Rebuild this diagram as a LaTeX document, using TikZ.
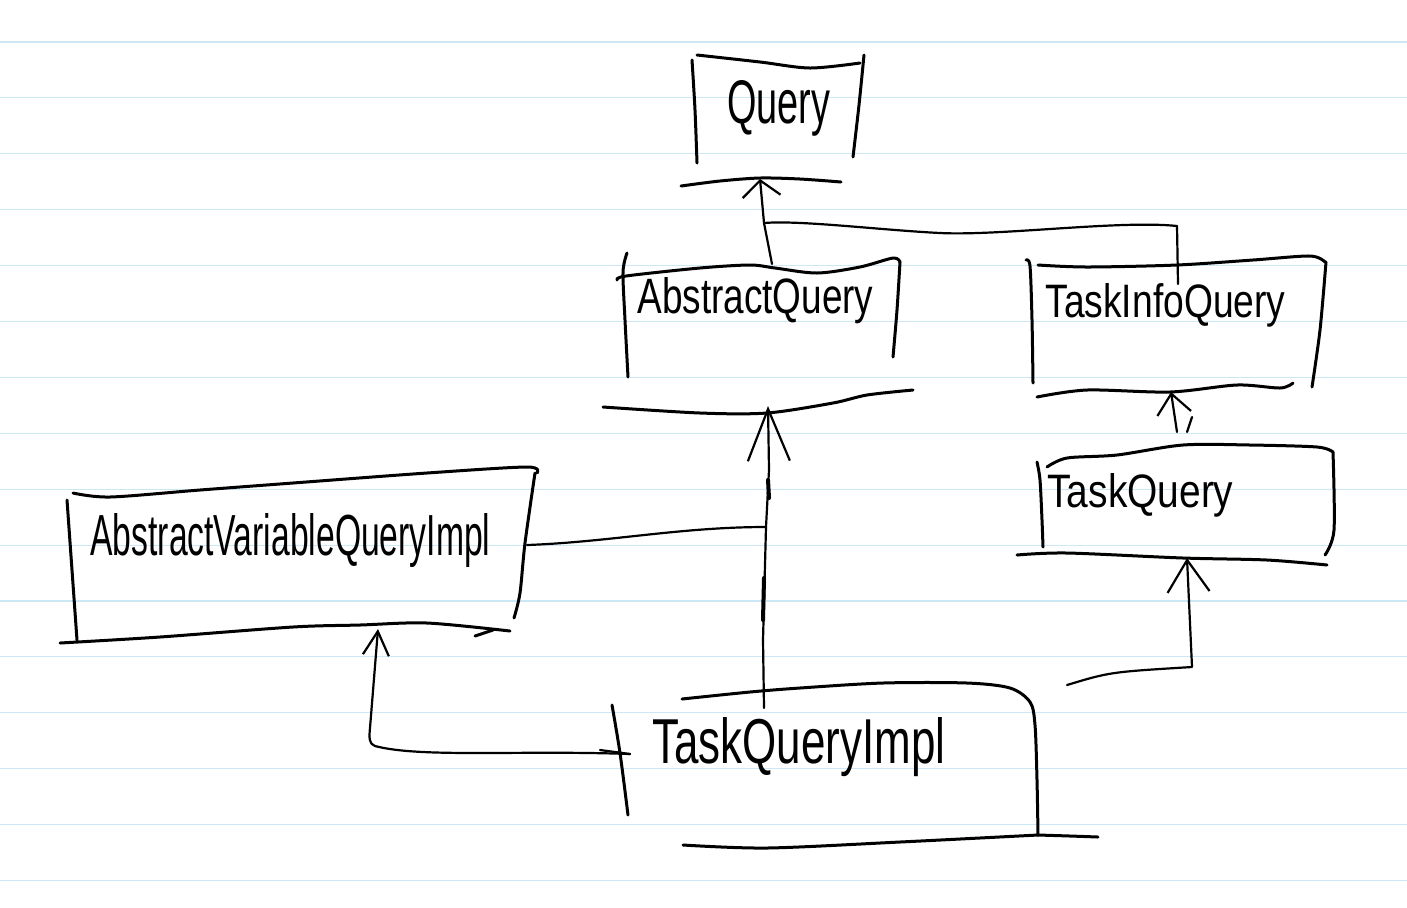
\documentclass[tikz,border=0pt]{standalone}
\usepackage{fontspec}
\usepackage{graphicx}
\setmainfont{Liberation Sans}
\usetikzlibrary{arrows.meta}
\definecolor{paperrule}{RGB}{204,232,246}
\newcommand{\hwtext}[3]{\resizebox{#1}{#2}{#3}}
\begin{document}
\begin{tikzpicture}[x=0.5pt,y=-0.5pt,
  ink/.style={line width=1.5pt, line cap=round, line join=round},
  conn/.style={line width=1.1pt, line cap=round, line join=round},
  classname/.style={inner sep=0pt, anchor=base west},
  rulestyle/.style={paperrule, line width=0.55pt}]
\fill[white] (0,0) rectangle (1407,907);
\useasboundingbox (0,0) rectangle (1407,907);
% ruled paper
\foreach \k in {0,...,15} \draw[rulestyle] (0,42+55.9*\k) -- (1407,42+55.9*\k);

% ---------- class names ----------
\node[classname] (Query) at (727,123) {\hwtext{51.5pt}{21.5pt}{Query}};
\node[classname] (AbstractQuery) at (637,313) {\hwtext{118pt}{18pt}{AbstractQuery}};
\node[classname] (TaskInfoQuery) at (1045,317) {\hwtext{120pt}{17pt}{TaskInfoQuery}};
\node[classname] (TaskQuery) at (1047,507) {\hwtext{93pt}{17pt}{TaskQuery}};
\node[classname] (AVQI) at (90,555) {\hwtext{200pt}{21pt}{AbstractVariableQueryImpl}};
\node[classname] (TQI) at (652,763) {\hwtext{146.5pt}{23pt}{TaskQueryImpl}};

% ---------- Query box ----------
\draw[ink] plot[smooth] coordinates {(692,60) (695,110) (697,163)};
\draw[ink] plot[smooth] coordinates {(697,55) (760,62) (810,68) (860,63)};
\draw[ink] plot[smooth] coordinates {(864,55) (859,105) (853,157)};
\draw[ink] plot[smooth] coordinates {(681,186) (720,181) (760,178) (800,179) (841,182)};
\coordinate (Q-in) at (760,179);

% ---------- AbstractQuery box ----------
\draw[ink] plot[smooth] coordinates {(627,253) (623,272) (625,320) (628,377)};
\draw[ink] plot[smooth] coordinates {(617,280) (626,276) (700,268) (750,265) (775,268) (817,273) (860,267) (893,258) (900,262)};
\draw[ink] plot[smooth] coordinates {(900,262) (897,310) (893,357)};
\draw[ink] plot[smooth] coordinates {(603,407) (700,413) (767,413) (833,403) (867,395) (913,390)};
\coordinate (AQ-in) at (768,406);
\coordinate (AQ-out) at (772,264);

% ---------- TaskInfoQuery box ----------
\draw[ink] plot[smooth] coordinates {(1026,260) (1030,266) (1032,320) (1033,383)};
\draw[ink] plot[smooth] coordinates {(1038,265) (1087,267) (1177,265) (1253,260) (1310,256) (1325,262)};
\draw[ink] plot[smooth] coordinates {(1326,262) (1320,330) (1312,387)};
\draw[ink] plot[smooth] coordinates {(1037,397) (1087,390) (1170,392) (1237,385) (1280,388) (1293,383)};
\coordinate (TIQ-top) at (1178,284);
\coordinate (TIQ-corner) at (1177,226);
\coordinate (TIQ-in) at (1171,392);

% ---------- TaskQuery box ----------
\draw[ink] plot[smooth] coordinates {(1037,462) (1040,480) (1042,520) (1043,547)};
\draw[ink] plot[smooth] coordinates {(1047,467) (1067,458) (1117,455) (1183,445) (1250,445) (1317,447) (1333,452)};
\draw[ink] plot[smooth] coordinates {(1333,452) (1334,530) (1325,555)};
\draw[ink] plot[smooth] coordinates {(1017,555) (1067,553) (1183,558) (1267,560) (1327,565)};
\coordinate (TQ-in) at (1187,558);
\coordinate (TQ-out) at (1177,432);

% ---------- AbstractVariableQueryImpl box ----------
\draw[ink] plot[smooth] coordinates {(67,500) (72,570) (77,640)};
\draw[ink] plot[smooth] coordinates {(73,493) (110,497) (200,490) (293,483) (427,473) (527,467) (537,473)};
\draw[ink] plot[smooth] coordinates {(535,473) (525,543) (520,593) (514,618)};
\draw[ink] plot[smooth] coordinates {(60,643) (160,637) (293,627) (360,625) (427,623) (510,631)};
\draw[ink] (475,636) -- (493,630);
\coordinate (AVQI-in) at (378,629);
\coordinate (AVQI-r) at (527,545);

% ---------- TaskQueryImpl box ----------
\draw[ink] plot[smooth] coordinates {(612,705) (620,753) (628,815)};
\draw[ink] plot[smooth] coordinates {(682,699) (750,692) (800,688) (883,683) (967,683) (1010,688) (1030,702) (1035,725) (1037,780) (1038,835)};
\draw[ink] plot[smooth] coordinates {(1038,835) (1070,836) (1098,837)};
\draw[ink] plot[smooth] coordinates {(683,845) (767,848) (900,842) (1038,835)};
\coordinate (TQI-top) at (764,708);
\coordinate (TQI-l) at (630,754);
\coordinate (TQI-r) at (1067,685);

% ---------- connectors ----------
\coordinate (J1) at (764,223);
\coordinate (J2) at (766,527);
% AbstractQuery -> Query
\draw[conn,-{Straight Barb[length=8pt,width=19pt]}] (AQ-out) -- (J1) -- (Q-in);
% TaskInfoQuery -> Query (joins the same arrow)
\draw[conn] (TIQ-top) -- (TIQ-corner);
\draw[conn] (TIQ-corner) .. controls (1120,220) and (1000,236) .. (940,233)
  .. controls (880,230) and (800,220) .. (J1);
% TaskQueryImpl -> AbstractQuery
\draw[conn,-{Straight Barb[length=26pt,width=21pt]}] (TQI-top) -- (763,640) -- (J2) -- (769,470) -- (AQ-in);
\draw[line width=2pt, line cap=round] (768,480) -- (769,498);
\draw[line width=2pt, line cap=round] (764,578) -- (763,620);
% AbstractVariableQueryImpl -> (shared arrow to AbstractQuery)
\draw[conn] (AVQI-r) .. controls (610,542) and (680,527) .. (J2);
% TaskQuery -> TaskInfoQuery
\draw[conn,-{Straight Barb[length=10pt,width=17pt]}] (TQ-out) -- (TIQ-in);
\draw[conn] (1192,417) -- (1187,432);
% TaskQueryImpl -> TaskQuery
\draw[conn,-{Straight Barb[length=16pt,width=21pt]}] (TQI-r) .. controls (1110,672) .. (1192,667) -- (TQ-in);
% TaskQueryImpl -> AbstractVariableQueryImpl
\draw[conn,-{Straight Barb[length=12pt,width=13pt]}] (TQI-l) .. controls (520,750) and (420,758) .. (375,746)
  .. controls (369,744) and (369,738) .. (370,728) -- (AVQI-in);
\draw[conn] (600,750) -- (TQI-l);
\end{tikzpicture}
\end{document}
